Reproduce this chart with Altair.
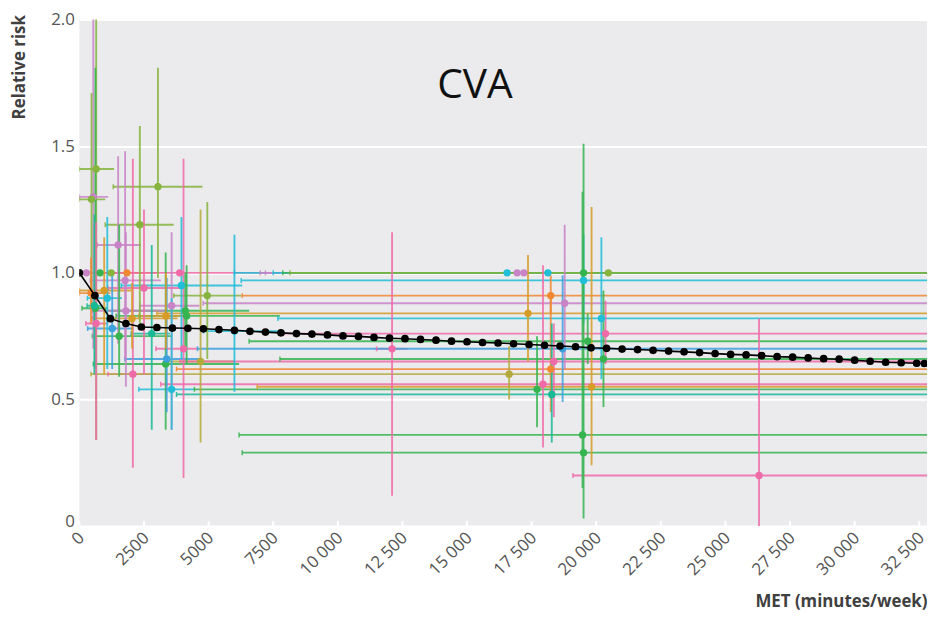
import pandas as pd
import altair as alt

# colour groups (one per study family)
palette_names = ['pink', 'purple', 'blue', 'cyan', 'teal', 'green',
                 'olivegreen', 'khaki', 'gold', 'orange']
palette_hex = ['#ee6ba8', '#c884c6', '#3ea0dd', '#20bed7', '#19b996', '#36b450',
               '#86b43e', '#b4aa3c', '#d79b28', '#f08732']

# study estimates: colour, MET (point, low, high), relative risk (point, low, high)
study = ['purple', 'green', 'olivegreen', 'orange', 'pink',
         'purple', 'olivegreen', 'olivegreen', 'green', 'olivegreen',
         'olivegreen', 'purple', 'purple', 'pink', 'pink',
         'pink', 'purple', 'cyan', 'cyan', 'gold',
         'olivegreen', 'khaki', 'green', 'green', 'green',
         'blue', 'teal', 'cyan', 'gold', 'gold',
         'teal', 'pink', 'blue', 'green', 'orange',
         'purple', 'cyan', 'pink',
         'cyan', 'purple', 'purple', 'cyan', 'green', 'olivegreen',
         'cyan', 'orange', 'purple', 'gold', 'cyan',
         'pink', 'green', 'blue', 'green', 'pink',
         'orange', 'khaki', 'pink', 'gold', 'green',
         'teal', 'green', 'green', 'pink']
met = [270, 800, 1230, 1840, 3880,
       540, 650, 470, 620, 3040,
       2340, 1500, 1770, 2500, 2070,
       4030, 3570, 3950, 1080, 960,
       4950, 4690, 4150, 4100, 3340,
       3380, 2800, 3570, 3350, 2040,
       580, 650, 1270, 1540, 450,
       1800, 6000, 12100,
       16550, 16940, 17200, 18130, 19510, 20470,
       19510, 18240, 18780, 17360, 20200,
       20360, 19670, 18700, 20280, 18360,
       18240, 16630, 17940, 19820, 17710,
       18280, 19470, 19510, 26300]
met_lo = [0, 0, 0, 600, 0,
          0, 0, 0, 100, 1310,
          1000, 690, 420, 1110, 1110,
          2960, 2340, 1620, 310, 0,
          3650, 3400, 1420, 1000, 540,
          1760, 2000, 2300, 2300, 500,
          300, 250, 320, 500, 0,
          500, 4800, 11500,
          6000, 7000, 7200, 7500, 7870, 8150,
          6260, 6300, 4790, 3000, 7680,
          7900, 6570, 4570, 7760, 3900,
          3760, 450, 3150, 6880, 4450,
          3760, 6180, 6300, 19100]
met_hi = [600, 1500, 2500, 3000, 7870,
          1110, 1340, 1000, 1100, 4760,
          3650, 2380, 3150, 3950, 2960,
          4570, 4640, 6300, 1650, 2000,
          6270, 6000, 7760, 6570, 6180,
          4640, 3500, 4450, 4200, 3800,
          900, 1100, 2090, 3600, 1200,
          3300, 7700, 12700,
          40000, 40000, 40000, 40000, 40000, 40000,
          40000, 40000, 40000, 40000, 40000,
          40000, 40000, 40000, 40000, 40000,
          40000, 40000, 40000, 40000, 40000,
          40000, 40000, 40000, 40000]
rr = [1.0, 1.0, 1.0, 1.0, 1.0,
      1.30, 1.41, 1.29, 0.86, 1.34,
      1.19, 1.11, 0.97, 0.94, 0.60,
      0.70, 0.87, 0.95, 0.90, 0.93,
      0.91, 0.65, 0.83, 0.85, 0.64,
      0.66, 0.76, 0.54, 0.83, 0.82,
      0.87, 0.80, 0.78, 0.75, 0.92,
      0.85, 0.77, 0.70,
      1.0, 1.0, 1.0, 1.0, 1.0, 1.0,
      0.97, 0.91, 0.88, 0.84, 0.82,
      0.76, 0.73, 0.70, 0.66, 0.65,
      0.62, 0.60, 0.56, 0.55, 0.54,
      0.52, 0.36, 0.29, 0.20]
rr_lo = [1.0, 1.0, 1.0, 1.0, 1.0,
         0.70, 0.34, 0.86, 0.62, 0.98,
         0.80, 0.72, 0.66, 0.60, 0.23,
         0.19, 0.38, 0.66, 0.62, 0.60,
         0.66, 0.33, 0.64, 0.70, 0.38,
         0.45, 0.38, 0.38, 0.70, 0.70,
         0.60, 0.34, 0.62, 0.59, 0.80,
         0.55, 0.53, 0.12,
         1.0, 1.0, 1.0, 1.0, 1.0, 1.0,
         0.80, 0.84, 0.62, 0.65, 0.58,
         0.64, 0.64, 0.49, 0.47, 0.43,
         0.45, 0.50, 0.31, 0.24, 0.39,
         0.33, 0.15, 0.03, 0.0]
rr_hi = [1.0, 1.0, 1.0, 1.0, 1.0,
         2.30, 2.30, 1.71, 1.81, 1.81,
         1.58, 1.46, 1.48, 1.25, 1.45,
         1.45, 1.16, 1.22, 1.22, 1.14,
         1.28, 1.25, 1.03, 1.00, 1.08,
         0.98, 1.11, 0.90, 1.00, 0.96,
         1.23, 1.20, 1.00, 1.19, 1.06,
         1.16, 1.15, 1.16,
         1.0, 1.0, 1.0, 1.0, 1.0, 1.0,
         1.15, 0.99, 1.19, 1.07, 1.14,
         0.89, 0.84, 0.99, 0.93, 0.80,
         0.90, 0.71, 1.03, 1.26, 0.75,
         0.80, 1.32, 1.51, 0.82]

# pooled dose-response curve
pooled_met = [0, 600, 1200, 1800, 2400, 3000, 3600, 4200, 4800, 5400,
              6000, 6600, 7200, 7800, 8400, 9000, 9600, 10200, 10800, 11400,
              12000, 12600, 13200, 13800, 14400, 15000, 15600, 16200, 16800, 17400,
              18000, 18600, 19200, 19800, 20400, 21000, 21600, 22200, 22800, 23400,
              24000, 24600, 25200, 25800, 26400, 27000, 27600, 28200, 28800, 29400,
              30000, 30600, 31200, 31800, 32400, 32700]
pooled_rr = [1.0, 0.91, 0.819, 0.80, 0.786, 0.784, 0.782, 0.781, 0.779, 0.776,
             0.773, 0.769, 0.766, 0.763, 0.760, 0.758, 0.755, 0.751, 0.749, 0.745,
             0.742, 0.740, 0.737, 0.734, 0.730, 0.728, 0.725, 0.723, 0.720, 0.717,
             0.714, 0.711, 0.708, 0.704, 0.702, 0.699, 0.697, 0.694, 0.691, 0.688,
             0.685, 0.681, 0.678, 0.676, 0.673, 0.669, 0.667, 0.664, 0.661, 0.659,
             0.655, 0.651, 0.647, 0.645, 0.643, 0.642]

x_ticks = [0, 2500, 5000, 7500, 10000, 12500, 15000, 17500, 20000,
           22500, 25000, 27500, 30000, 32500]
y_ticks = [0, 0.5, 1.0, 1.5, 2.0]

df = pd.DataFrame({'study': study, 'met': met, 'met_lo': met_lo, 'met_hi': met_hi,
                   'rr': rr, 'rr_lo': rr_lo, 'rr_hi': rr_hi})
pooled = pd.DataFrame({'met': pooled_met, 'rr': pooled_rr})
ticks = pd.DataFrame({'met': x_ticks})

FONT = 'Open Sans'
H = 511
xscale = alt.Scale(domain=[0, 32800], nice=False, zero=False)
yscale = alt.Scale(domain=[0, 2.0], nice=False)
xaxis = alt.Axis(values=x_ticks, labelAngle=315, labelFontSize=17, labelColor='#555555',
                 labelFont=FONT, labelPadding=9, labelOffset=2, labelAlign='right',
                 labelBaseline='middle', grid=False, domain=False, ticks=False,
                 labelExpr="datum.value >= 10000 ? replace(format(datum.value, ','), ',', ' ') : format(datum.value, 'd')",
                 title='MET (minutes/week)', titleFont=FONT, titleFontSize=17,
                 titleFontWeight='bold', titleColor='#404040', titleAnchor='end',
                 titleAlign='right', titleBaseline='alphabetic', titleY=81)
yaxis = alt.Axis(values=y_ticks, labelFontSize=17, labelColor='#555555', labelFont=FONT,
                 labelPadding=5, domain=False, ticks=False, grid=True,
                 gridColor='white', gridWidth=2,
                 labelBaseline={'condition': {'test': 'datum.value == 0', 'value': 'alphabetic'},
                                'value': 'middle'},
                 labelExpr="datum.value == 0 ? '0' : format(datum.value, '.1f')",
                 title='Relative risk', titleFont=FONT, titleFontSize=17,
                 titleFontWeight='bold', titleColor='#404040', titleAnchor='end',
                 titleAlign='right', titleBaseline='middle', titleX=-60, titleY=-5)
color = alt.Color('study:N', scale=alt.Scale(domain=palette_names, range=palette_hex),
                  legend=None)

base = alt.Chart(df)

hbars = base.mark_rule(clip=True, strokeWidth=1.9, opacity=0.85).encode(
    x=alt.X('met_lo:Q', scale=xscale, axis=xaxis),
    x2='met_hi:Q',
    y=alt.Y('rr:Q', scale=yscale, axis=yaxis),
    color=color
)
caps = base.mark_tick(clip=True, orient='vertical', size=5, thickness=1.5, opacity=0.85).encode(
    x=alt.X('met_lo:Q', scale=xscale, axis=xaxis),
    y=alt.Y('rr:Q', scale=yscale, axis=yaxis),
    color=color
)
vbars = base.mark_rule(clip=True, strokeWidth=1.9, opacity=0.85).encode(
    x=alt.X('met:Q', scale=xscale, axis=xaxis),
    y=alt.Y('rr_lo:Q', scale=yscale, axis=yaxis),
    y2='rr_hi:Q',
    color=color
)
pts = base.mark_circle(clip=True, size=55, opacity=1).encode(
    x=alt.X('met:Q', scale=xscale, axis=xaxis),
    y=alt.Y('rr:Q', scale=yscale, axis=yaxis),
    color=color
)

curve = alt.Chart(pooled).mark_line(color='black', strokeWidth=1.6, clip=True).encode(
    x=alt.X('met:Q', scale=xscale, axis=xaxis),
    y=alt.Y('rr:Q', scale=yscale, axis=yaxis)
)
curve_pts = alt.Chart(pooled).mark_circle(color='black', size=60, opacity=1, clip=True).encode(
    x=alt.X('met:Q', scale=xscale, axis=xaxis),
    y=alt.Y('rr:Q', scale=yscale, axis=yaxis)
)

tick_marks = alt.Chart(ticks).mark_rule(color='white', strokeWidth=2).encode(
    x=alt.X('met:Q', scale=xscale, axis=xaxis),
    y=alt.value(H - 5),
    y2=alt.value(H)
)

label = alt.Chart(pd.DataFrame({'t': ['CVA']})).mark_text(
    fontSize=41, font=FONT, color='#111111', align='center', baseline='middle'
).encode(text='t:N', x=alt.value(399), y=alt.value(67))

chart = alt.layer(hbars, caps, vbars, pts, curve, curve_pts, tick_marks, label).properties(
    width=855, height=H,
    autosize=alt.AutoSizeParams(type='none'),
    padding={'left': 72, 'top': 9, 'right': 1, 'bottom': 83}
).configure_view(fill='#ebebed', strokeWidth=0)

chart.save("out.html", embed_options={"renderer": "svg", "actions": False})
